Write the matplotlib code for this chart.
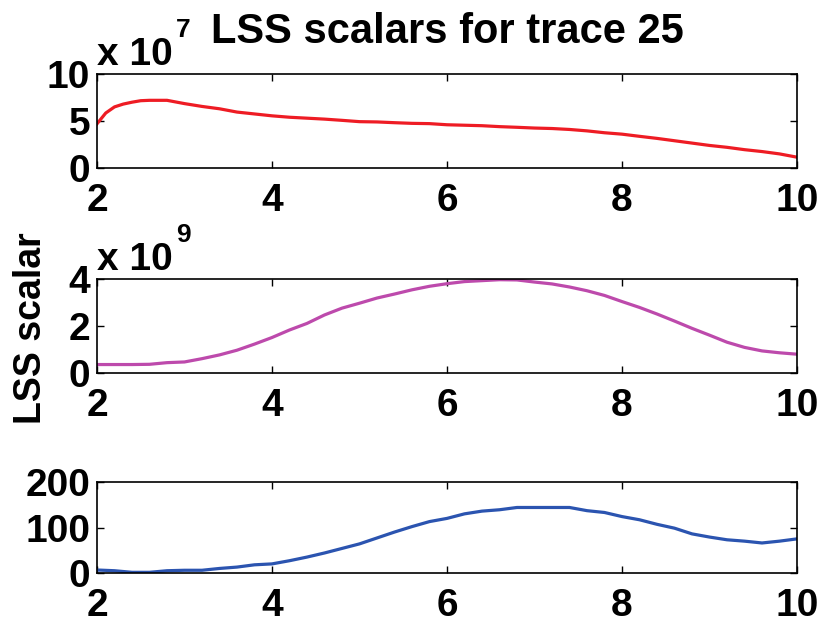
import numpy as np
import matplotlib
matplotlib.use("Agg")
import matplotlib.pyplot as plt
import matplotlib.transforms as mtrans

plt.rcParams['font.family'] = ['Liberation Sans', 'DejaVu Sans']
plt.rcParams['font.weight'] = 'bold'

x = [2.0, 2.2, 2.4, 2.6, 2.8, 3.0, 3.2, 3.4, 3.6, 3.8, 4.0, 4.2, 4.4, 4.6, 4.8,
     5.0, 5.2, 5.4, 5.6, 5.8, 6.0, 6.2, 6.4, 6.6, 6.8, 7.0, 7.2, 7.4, 7.6, 7.8,
     8.0, 8.2, 8.4, 8.6, 8.8, 9.0, 9.2, 9.4, 9.6, 9.8, 10.0]
red_x = [2.0, 2.1, 2.2, 2.3, 2.4, 2.5, 2.6, 2.8, 3.0, 3.2, 3.4, 3.6, 3.8, 4.0, 4.2,
         4.4, 4.6, 4.8, 5.0, 5.2, 5.4, 5.6, 5.8, 6.0, 6.2, 6.4, 6.6, 6.8, 7.0, 7.2,
         7.4, 7.6, 7.8, 8.0, 8.2, 8.4, 8.6, 8.8, 9.0, 9.2, 9.4, 9.6, 9.8, 10.0]
red_y = [4.7, 5.85, 6.5, 6.8, 7.0, 7.16, 7.2, 7.2, 6.85, 6.55, 6.3, 5.95, 5.75, 5.55, 5.4,
         5.3, 5.2, 5.07, 4.93, 4.9, 4.82, 4.75, 4.72, 4.6, 4.55, 4.5, 4.4, 4.33, 4.25, 4.2,
         4.1, 3.95, 3.75, 3.6, 3.37, 3.15, 2.9, 2.65, 2.4, 2.2, 1.95, 1.75, 1.5, 1.15]
magenta_y = [0.36, 0.36, 0.36, 0.37, 0.44, 0.47, 0.61, 0.77, 0.97, 1.23, 1.51, 1.83, 2.11, 2.47, 2.76,
             2.97, 3.19, 3.36, 3.54, 3.69, 3.8, 3.89, 3.93, 3.97, 3.96, 3.87, 3.79, 3.66, 3.5, 3.3,
             3.04, 2.79, 2.51, 2.21, 1.9, 1.61, 1.31, 1.09, 0.94, 0.86, 0.8]
blue_y = [6.6, 5, 1.5, 1.5, 5, 6, 6, 10, 13, 18, 20, 27, 35, 44, 54,
          64, 77, 90, 102, 113, 120, 130, 136, 139, 144, 144, 144, 144, 137, 133,
          124, 117, 107, 98.5, 86, 79, 73, 70, 66, 70, 75]

xticks = [2, 4, 6, 8, 10]
title = "LSS scalars for trace 25"
ylabel = "LSS scalar"

W, H = 822, 620
fig = plt.figure(figsize=(W / 100, H / 100), dpi=100)

def rect(l, t, r, b):
    return [l / W, 1 - b / H, (r - l) / W, (b - t) / H]

fs = 28
specs = [
    (rect(97, 74, 797, 168), red_x, np.array(red_y) * 1e7, [0, 5e7, 1e8], ['0', '5', '10'], (0, 1e8), '#ee1c24', '7'),
    (rect(97, 279, 797, 373), x, np.array(magenta_y) * 1e9, [0, 2e9, 4e9], ['0', '2', '4'], (0, 4e9), '#bd4aac', '9'),
    (rect(97, 482, 797, 573), x, np.array(blue_y), [0, 100, 200], ['0', '100', '200'], (0, 200), '#2b54b0', None),
]

axes = []
for r, xs, ys, yt, ytl, yl, col, exp in specs:
    ax = fig.add_axes(r)
    ax.plot(xs, ys, color=col, lw=2.3)
    ax.set_xlim(2, 10)
    ax.set_ylim(*yl)
    ax.set_xticks(xticks)
    ax.set_xticklabels([str(v) for v in xticks])
    ax.set_yticks(yt)
    ax.set_yticklabels(ytl)
    ax.tick_params(direction='in', length=5, width=1, top=True, right=True,
                   labelsize=fs, pad=5)
    ax.tick_params(axis='x', pad=10.5)
    for s in ax.spines.values():
        s.set_linewidth(1.2)
    if exp:
        t1 = mtrans.offset_copy(ax.transAxes, fig=fig, x=0, y=9, units='dots')
        ax.text(0.0, 1.0, 'x 10', transform=t1, fontsize=fs,
                ha='left', va='baseline', fontweight='bold')
        t2 = mtrans.offset_copy(ax.transAxes, fig=fig, x=79, y=37, units='dots')
        ax.text(0.0, 1.0, exp, transform=t2, fontsize=19,
                ha='left', va='baseline', fontweight='bold')
    axes.append(ax)

fig.text(447 / W, 1 - 43 / H, title, fontsize=30, ha='center', va='baseline', fontweight='bold')
fig.text(31 / W, 1 - 328 / H, ylabel, rotation=90, fontsize=27, ha='center', va='center', fontweight='bold')

fig.savefig('out.png', dpi=100)
